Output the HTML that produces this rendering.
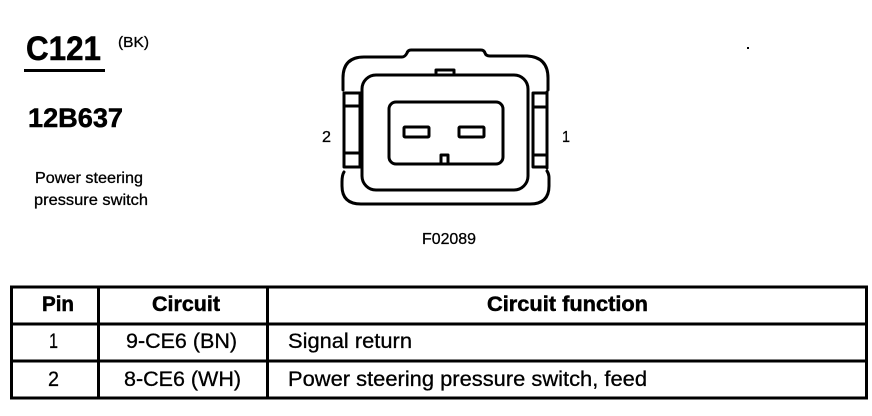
<!DOCTYPE html>
<html><head><meta charset="utf-8"><style>
html,body{margin:0;padding:0;background:#fff;width:872px;height:416px;overflow:hidden}
svg{display:block}
text{font-family:"Liberation Sans",sans-serif;fill:#000;stroke:#000;stroke-width:.3}
.b{font-weight:bold;stroke-width:.5}
.s{stroke:#000;fill:none;stroke-linejoin:round;stroke-linecap:round}
</style></head><body>
<svg width="872" height="416" viewBox="0 0 872 416" xmlns="http://www.w3.org/2000/svg">
<text x="26" y="60" class="b" font-size="34" textLength="75" lengthAdjust="spacingAndGlyphs">C121</text>
<text x="118" y="47" font-size="15" textLength="31" lengthAdjust="spacingAndGlyphs">(BK)</text>
<rect x="24" y="69" width="81" height="3" fill="#000"/>
<text x="28" y="127" class="b" font-size="26.500" textLength="95" lengthAdjust="spacingAndGlyphs">12B637</text>
<text x="35" y="183" font-size="16" textLength="108" lengthAdjust="spacingAndGlyphs">Power steering</text>
<text x="34" y="205" font-size="16" textLength="114" lengthAdjust="spacingAndGlyphs">pressure switch</text>

<path class="s" stroke-width="3" d="M343 90V78Q343 57 364 57H402Q405 57 407 53Q408 50 411 50H481Q484 50 485 53Q486 56 490 56H527Q548 57 548 78V90"/>
<path class="s" stroke-width="3" d="M344 172Q342 175 342 182V186Q342 204 361 204H530Q549 204 549 186V178Q549 174 547 171"/>
<rect class="s" stroke-width="3" x="362" y="75" width="166" height="115" rx="14"/>
<rect class="s" stroke-width="3" x="389" y="102" width="114" height="62" rx="7"/>
<rect class="s" stroke-width="3" x="404" y="127" width="25" height="10" rx="1"/>
<rect class="s" stroke-width="3" x="459" y="127" width="25" height="10" rx="1"/>
<path class="s" stroke-width="3" d="M441 164V155H448V164"/>
<path class="s" stroke-width="3" d="M436 73V70H454V73"/>
<path class="s" stroke-width="3" d="M344 93V167M344 93H361M344 106H361M344 153H361M344 167H361"/>
<path class="s" stroke-width="3" d="M360 95V165"/>
<path class="s" stroke-width="3" d="M547 92V168M533 93V167M533 93H547M533 107H547M533 155H547M533 167H547"/>
<text x="322" y="142" font-size="16" textLength="9" lengthAdjust="spacingAndGlyphs">2</text>
<text x="562" y="142" font-size="16" textLength="8" lengthAdjust="spacingAndGlyphs">1</text>
<text x="422" y="244" font-size="16" textLength="54" lengthAdjust="spacingAndGlyphs">F02089</text>

<g fill="#000">
<rect x="10" y="285.500" width="858" height="3"/>
<rect x="10" y="322.500" width="858" height="3"/>
<rect x="10" y="359.500" width="858" height="3"/>
<rect x="10" y="396.500" width="858" height="3"/>
<rect x="10" y="286" width="3" height="113"/>
<rect x="97" y="286" width="3" height="113"/>
<rect x="266" y="286" width="3" height="113"/>
<rect x="865" y="286" width="3" height="113"/>
</g>
<text x="42" y="311" class="b" font-size="21" textLength="32" lengthAdjust="spacingAndGlyphs">Pin</text>
<text x="152" y="311" class="b" font-size="21" textLength="68" lengthAdjust="spacingAndGlyphs">Circuit</text>
<text x="487" y="311" class="b" font-size="21" textLength="161" lengthAdjust="spacingAndGlyphs">Circuit function</text>
<text x="49" y="348" font-size="21" textLength="9" lengthAdjust="spacingAndGlyphs">1</text>
<text x="126" y="348" font-size="21" textLength="111" lengthAdjust="spacingAndGlyphs">9-CE6 (BN)</text>
<text x="288" y="348" font-size="21" textLength="124" lengthAdjust="spacingAndGlyphs">Signal return</text>
<text x="48" y="386" font-size="21" textLength="11" lengthAdjust="spacingAndGlyphs">2</text>
<text x="124" y="386" font-size="21" textLength="117" lengthAdjust="spacingAndGlyphs">8-CE6 (WH)</text>
<text x="288" y="386" font-size="21" textLength="359" lengthAdjust="spacingAndGlyphs">Power steering pressure switch, feed</text>
<rect x="747" y="47" width="2" height="2" fill="#000"/>
</svg>
</body></html>
